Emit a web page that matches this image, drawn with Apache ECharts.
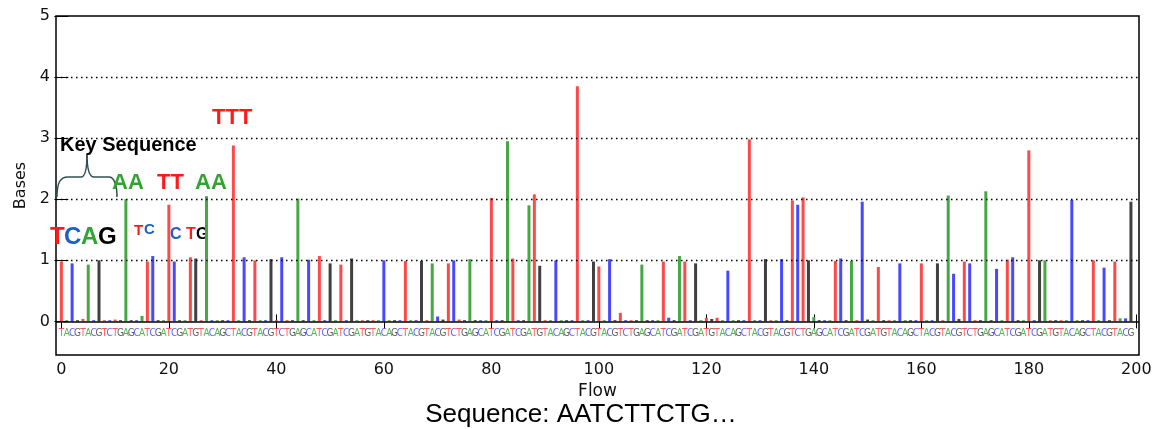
<!DOCTYPE html>
<html>
<head>
<meta charset="utf-8">
<title>Flowgram</title>
<script src="https://cdn.jsdelivr.net/npm/echarts@6/dist/echarts.min.js"></script>
<style>
  html, body { margin: 0; padding: 0; background: #fff; }
  #main { width: 1157px; height: 429px; }
</style>
</head>
<body>
<div id="main"></div>
<script>
// flow order (nucleotide flowed at each step) - 200 flows
var flowSeq = 'TACGTACGTCTGAGCATCGATCGATGTACAGC' +
  'TACGTACGTCTGAGCATCGATCGATGTACAGC' +
  'TACGTACGTCTGAGCATCGATCGATGTACAGC' +
  'TACGTACGTCTGAGCATCGATCGATGTACAGC' +
  'TACGTACGTCTGAGCATCGATCGATGTACAGC' +
  'TACGTACGTCTGAGCATCGATCGATGTACAGC' +
  'TACGTACG';

// signal (bases) per flow
var flowValues = [
  0.98, 0.02, 0.95, 0.02, 0.04, 0.93, 0.02, 1.00, 0.02, 0.02,
  0.03, 0.02, 2.00, 0.02, 0.02, 0.09, 0.98, 1.07, 0.02, 0.02,
  1.91, 0.98, 0.02, 0.02, 1.05, 1.03, 0.02, 2.05, 0.02, 0.02,
  0.02, 0.02, 2.88, 0.02, 1.05, 0.02, 1.00, 0.02, 0.02, 1.02,
  0.02, 1.05, 0.02, 0.02, 2.01, 0.02, 1.01, 0.02, 1.07, 0.02,
  0.95, 0.02, 0.93, 0.02, 1.03, 0.02, 0.02, 0.02, 0.02, 0.02,
  1.00, 0.02, 0.02, 0.02, 0.99, 0.02, 0.02, 0.99, 0.02, 0.95,
  0.08, 0.03, 0.95, 1.00, 0.03, 0.02, 1.02, 0.02, 0.02, 0.02,
  2.02, 0.02, 0.02, 2.95, 1.03, 0.02, 0.02, 1.90, 2.08, 0.91,
  0.02, 0.02, 1.00, 0.02, 0.02, 0.02, 3.85, 0.02, 0.02, 0.98,
  0.90, 0.02, 1.02, 0.02, 0.14, 0.02, 0.02, 0.02, 0.93, 0.02,
  0.02, 0.02, 0.98, 0.06, 0.02, 1.07, 0.98, 0.02, 0.95, 0.02,
  0.06, 0.04, 0.06, 0.02, 0.83, 0.02, 0.02, 0.02, 2.98, 0.02,
  0.02, 1.02, 0.02, 0.02, 1.02, 0.02, 1.98, 1.91, 2.03, 1.00,
  0.07, 0.02, 0.02, 0.02, 0.99, 1.03, 0.02, 0.99, 0.02, 1.96,
  0.03, 0.02, 0.89, 0.02, 0.02, 0.02, 0.95, 0.02, 0.02, 0.02,
  0.95, 0.02, 0.02, 0.95, 0.02, 2.06, 0.78, 0.04, 0.98, 0.95,
  0.02, 0.02, 2.13, 0.02, 0.86, 0.02, 1.01, 1.05, 0.02, 0.02,
  2.80, 0.02, 1.00, 1.00, 0.02, 0.02, 0.02, 0.02, 1.99, 0.02,
  0.02, 0.02, 1.00, 0.02, 0.88, 0.02, 0.98, 0.05, 0.05, 1.96
];

var xTicks = [0, 20, 40, 60, 80, 100, 120, 140, 160, 180, 200];
var yTicks = [0, 1, 2, 3, 4, 5];
var gridLevels = [1, 2, 3, 4];

var barColors = { T: '#ff4848', A: '#45a845', C: '#4848ff', G: '#404040' };
var letterColors = { T: '#ff3030', A: '#2e9e2e', C: '#3535ff', G: '#333333' };

var chart = echarts.init(document.getElementById('main'));

var barData = flowValues.map(function (v, i) {
  return { value: [i, v], itemStyle: { color: barColors[flowSeq[i]] } };
});

var markLines = gridLevels.map(function (g) {
  return { yAxis: g, lineStyle: { type: [1.5, 3.5], color: '#000', width: 1.3 } };
});
markLines.push({ yAxis: 0, lineStyle: { type: 'solid', color: '#000', width: 1.5 } });

// one scatter series per nucleotide for the flow letters under the baseline
var letterSeries = 'TACG'.split('').map(function (b) {
  var pts = [];
  for (var i = 0; i < flowSeq.length; i++) {
    if (flowSeq[i] === b) pts.push([i, -0.2]);
  }
  return {
    type: 'scatter',
    xAxisIndex: 0, yAxisIndex: 0,
    symbolSize: 1,
    itemStyle: { color: 'rgba(255,255,255,0)' },
    label: {
      show: true, position: 'inside',
      color: letterColors[b], textBorderWidth: 0,
      fontSize: 10, fontFamily: 'Liberation Sans Narrow, DejaVu Sans Condensed, DejaVu Sans',
      formatter: b
    },
    labelLayout: { hideOverlap: false },
    data: pts
  };
});

var tickFont = { fontSize: 16, color: '#111', fontFamily: 'DejaVu Sans' };

// curly brace under "Key Sequence"
var braceStyle = { stroke: '#2f5050', fill: 'none', lineWidth: 1.5 };
function curve(x1, y1, c1x, c1y, c2x, c2y, x2, y2) {
  return { type: 'bezierCurve', shape: { x1: x1, y1: y1, cpx1: c1x, cpy1: c1y, cpx2: c2x, cpy2: c2y, x2: x2, y2: y2 }, style: braceStyle };
}
function seg(x1, y1, x2, y2) {
  return { type: 'line', shape: { x1: x1, y1: y1, x2: x2, y2: y2 }, style: braceStyle };
}

function label(txt, x, y, size, color) {
  return { type: 'text', x: x, y: y, style: { text: txt, fontSize: size, fontWeight: 'bold', fontFamily: 'Liberation Sans', fill: color, verticalAlign: 'middle' } };
}

var option = {
  animation: false,
  backgroundColor: '#fff',
  grid: {
    left: 56, top: 16, width: 1083, height: 339,
    show: true, borderColor: '#000', borderWidth: 1.5
  },
  xAxis: [
    {
      type: 'value', min: -1, max: 200.5, position: 'bottom',
      axisLine: { show: false },
      axisTick: { show: true, inside: true, length: 7, customValues: xTicks, lineStyle: { color: '#000' } },
      axisLabel: Object.assign({ customValues: xTicks, margin: 7 }, tickFont),
      splitLine: { show: false },
      name: 'Flow', nameLocation: 'middle', nameGap: 27,
      nameTextStyle: { fontSize: 17, color: '#111', fontFamily: 'DejaVu Sans' }
    },
    {
      type: 'value', min: -1, max: 200.5, position: 'top',
      axisLine: { show: false },
      axisTick: { show: true, inside: true, length: 7, customValues: xTicks, lineStyle: { color: '#000' } },
      axisLabel: { show: false },
      splitLine: { show: false }
    }
  ],
  yAxis: [
    {
      type: 'value', min: -0.55, max: 5, position: 'left',
      axisLine: { show: false },
      axisTick: { show: true, inside: true, length: 7, customValues: yTicks, lineStyle: { color: '#000' } },
      axisLabel: Object.assign({ customValues: yTicks, margin: 6 }, tickFont),
      splitLine: { show: false },
      name: 'Bases', nameLocation: 'middle', nameGap: 26, nameRotate: 90,
      nameTextStyle: { fontSize: 16, color: '#111', fontFamily: 'DejaVu Sans' }
    },
    {
      type: 'value', min: -0.55, max: 5, position: 'right',
      axisLine: { show: false },
      axisTick: { show: true, inside: true, length: 7, customValues: yTicks, lineStyle: { color: '#000' } },
      axisLabel: { show: false },
      splitLine: { show: false }
    }
  ],
  series: [
    {
      type: 'bar',
      xAxisIndex: 0, yAxisIndex: 0,
      barWidth: 3,
      data: barData,
      markLine: {
        silent: true, symbol: 'none', label: { show: false },
        data: markLines
      }
    }
  ].concat(letterSeries),
  graphic: [
    curve(57, 197, 57, 183, 60, 177, 68, 177),
    seg(68, 177, 81, 177),
    curve(81, 177, 85, 177, 87, 170, 87, 154),
    curve(87, 154, 87, 170, 89, 177, 94, 177),
    seg(94, 177, 109, 177),
    curve(109, 177, 114, 177, 117, 185, 117, 197),
    label('Key Sequence', 60, 145, 20, '#000'),
    label('AA', 112, 183, 22, '#33a333'),
    label('TT', 157, 183, 22, '#ff1a1a'),
    label('AA', 195, 183, 22, '#33a333'),
    label('TTT', 212, 118, 22, '#ff1a1a'),
    label('T', 50, 237, 24, '#ff1a1a'),
    label('C', 64, 237, 24, '#1f5fc0'),
    label('A', 81, 237, 24, '#33a333'),
    label('G', 98, 237, 24, '#000'),
    label('T', 134, 231, 15, '#ff1a1a'),
    label('C', 144, 230, 15, '#1f5fc0'),
    label('C', 170, 235, 16, '#1f5fc0'),
    label('T', 186, 235, 16, '#ff1a1a'),
    label('G', 196, 235, 16, '#000'),
    { type: 'text', x: 581, y: 415, style: { text: 'Sequence: AATCTTCTG\u2026', fontSize: 26, fontFamily: 'Liberation Sans', fill: '#000', align: 'center', verticalAlign: 'middle' } }
  ]
};
chart.setOption(option);
</script>
</body>
</html>
